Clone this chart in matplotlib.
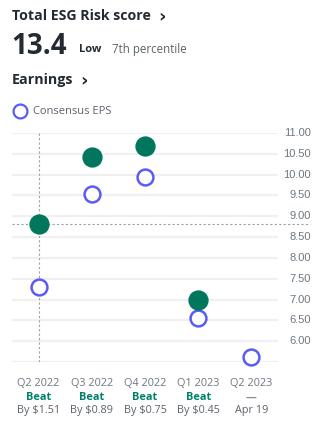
import matplotlib
matplotlib.use('Agg')
import matplotlib.pyplot as plt
from matplotlib.transforms import blended_transform_factory

W, H = 323, 426

quarters = ['Q2 2022', 'Q3 2022', 'Q4 2022', 'Q1 2023', 'Q2 2023']
actual_eps = [8.82, 10.43, 10.69, 7.00, None]
consensus_eps = [7.31, 9.54, 9.94, 6.55, 5.62]
results = ['Beat', 'Beat', 'Beat', 'Beat', '—']
details = ['By $1.51', 'By $0.89', 'By $0.75', 'By $0.45', 'Apr 19']
yticks = [6.0, 6.5, 7.0, 7.5, 8.0, 8.5, 9.0, 9.5, 10.0, 10.5, 11.0]

GREEN = '#00775c'
TEAL = '#00806a'
BLUE = '#5b5bf5'
DARK = '#232a31'
GRAY = '#5b636a'
GRID = '#f0f0f3'

fig = plt.figure(figsize=(W / 100, H / 100), dpi=100)
fig.patch.set_facecolor('white')


def px(x, y):
    return x / W, 1 - y / H


# header block
fig.text(*px(12, 16), 'Total ESG Risk score', family='Open Sans', weight='bold',
         fontsize=10.2, color=DARK, va='center')
fig.text(*px(158, 17), '›', family='DejaVu Sans', weight='bold',
         fontsize=13, color=DARK, va='center')
fig.text(*px(11, 47), '13.4', family='Open Sans', weight='bold',
         fontsize=20, color=DARK, va='center')
fig.text(*px(79, 50), 'Low', family='Open Sans', weight='bold',
         fontsize=8, color=DARK, va='center')
fig.text(*px(112, 50), '7th percentile', family='Open Sans',
         fontsize=8.3, color=GRAY, va='center')
fig.text(*px(12, 80), 'Earnings', family='Open Sans', weight='bold',
         fontsize=10.3, color=DARK, va='center')
fig.text(*px(80, 81), '›', family='DejaVu Sans', weight='bold',
         fontsize=13, color=DARK, va='center')

# legend
fig.lines.append(plt.Line2D([20 / W], [1 - 111 / H], transform=fig.transFigure,
                            marker='o', markersize=10, markerfacecolor='white',
                            markeredgecolor=BLUE, markeredgewidth=1.6))
fig.text(*px(33, 111), 'Consensus EPS', family='Open Sans',
         fontsize=8, color=GRAY, va='center')

# chart area
ax = fig.add_axes([12 / W, 1 - 362 / H, (278 - 12) / W, (362 - 133) / H])
ax.set_xlim(-0.5, 4.5)
ax.set_ylim(5.5, 11.0)
ax.axis('off')

for v in yticks + [5.5]:
    ax.axhline(v, color=GRID, lw=1.6, zorder=0)

ytrans = blended_transform_factory(fig.transFigure, ax.transData)
for v in yticks:
    ax.text(311 / W, v, f'{v:.2f}', transform=ytrans, ha='right', va='center',
            family='Liberation Sans', fontsize=8, color='#6e7780')

# crosshair on the first reported quarter
ax.axvline(0, color='#a0a0a0', lw=0.8, ls=(0, (2, 2)), zorder=1)
ax.plot([-0.5, 5.1], [actual_eps[0]] * 2, color='#a0a0a0', lw=0.8,
        ls=(0, (2, 2)), zorder=1, clip_on=False)

xs = range(len(quarters))
ax.scatter(xs, consensus_eps, s=130, facecolor='white', edgecolor=BLUE,
           linewidth=1.8, zorder=3, clip_on=False)
act_x = [i for i, v in enumerate(actual_eps) if v is not None]
act_y = [v for v in actual_eps if v is not None]
ax.scatter(act_x, act_y, s=185, color=GREEN, zorder=4, clip_on=False)

# quarter labels below the plot
xtrans = blended_transform_factory(ax.transData, fig.transFigure)
for i, (q, r, d) in enumerate(zip(quarters, results, details)):
    ax.text(i, 1 - 384 / H, q, transform=xtrans, ha='center', va='center',
            family='Open Sans', fontsize=7.8, color='#6e7780')
    ax.text(i, 1 - 397.5 / H, r, transform=xtrans, ha='center', va='center',
            family='Open Sans', weight='bold', fontsize=7.8,
            color=TEAL if r == 'Beat' else '#8a9096')
    ax.text(i, 1 - 411 / H, d, transform=xtrans, ha='center', va='center',
            family='Open Sans', fontsize=7.8, color=GRAY)

fig.savefig('out.png', dpi=100)
